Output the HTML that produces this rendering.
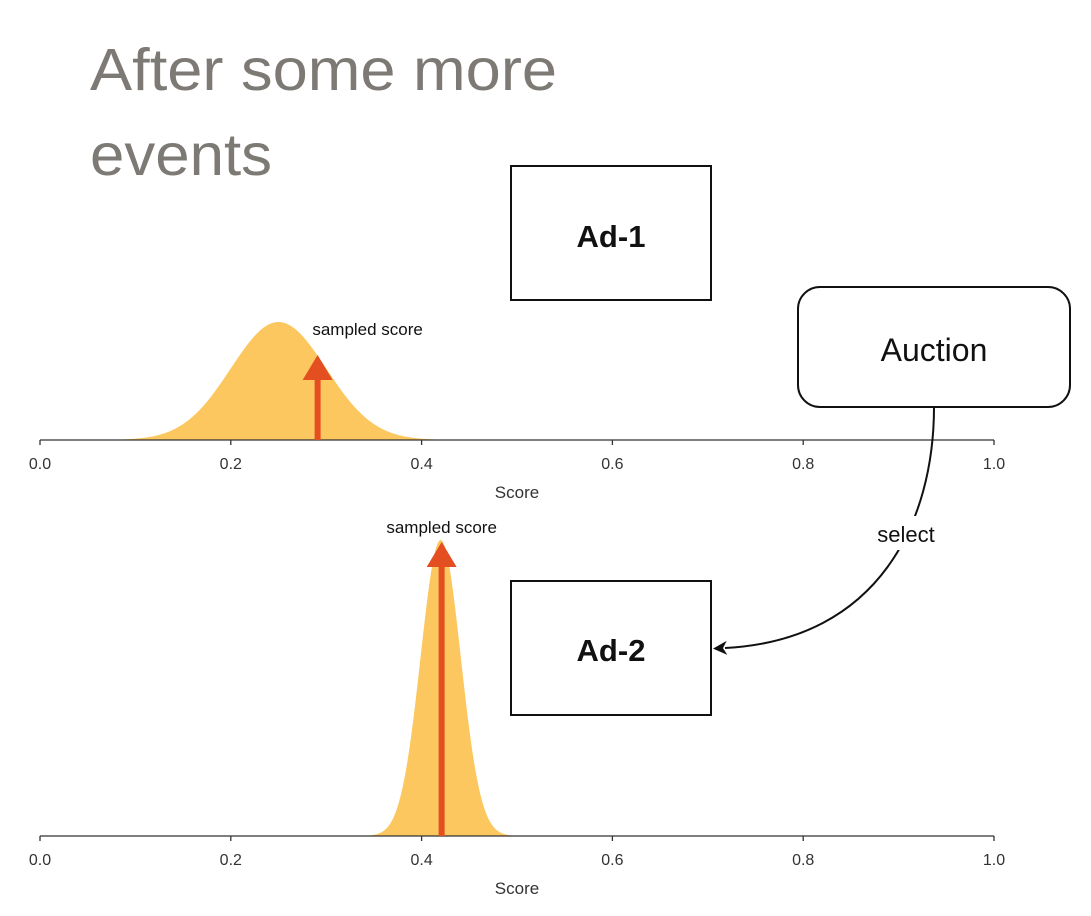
<!DOCTYPE html>
<html><head><meta charset="utf-8">
<style>
html,body{margin:0;padding:0;background:#fff;}
svg{display:block;font-family:"Liberation Sans","DejaVu Sans",sans-serif;}
</style></head>
<body>
<svg id="chart" width="1091" height="916" viewBox="0 0 1091 916" xmlns="http://www.w3.org/2000/svg">
  <defs>
    <marker id="selArrow" markerWidth="18" markerHeight="18" refX="4" refY="9" orient="auto" markerUnits="userSpaceOnUse">
      <path d="M16,9 L2,2 L6,9 L2,16 Z" fill="#111"/>
    </marker>
  </defs>
  <text x="90" y="90" font-size="59" fill="#7d7a75" textLength="467" lengthAdjust="spacingAndGlyphs">After some more</text>
  <text x="90" y="175" font-size="59" fill="#7d7a75" textLength="182" lengthAdjust="spacingAndGlyphs">events</text>

  <g>
    <rect x="511" y="166" width="200" height="134" fill="#fff" stroke="#111" stroke-width="2"/>
    <text x="611" y="247" font-size="31" font-weight="bold" text-anchor="middle" fill="#111">Ad-1</text>
  </g>
  <g>
    <rect x="511" y="581" width="200" height="134" fill="#fff" stroke="#111" stroke-width="2"/>
    <text x="611" y="661" font-size="31" font-weight="bold" text-anchor="middle" fill="#111">Ad-2</text>
  </g>
  <g>
    <rect x="798" y="287" width="272" height="120" rx="22" fill="#fff" stroke="#111" stroke-width="2"/>
    <text x="934" y="361" font-size="32" text-anchor="middle" fill="#111">Auction</text>
  </g>

  <g id="plots"></g>

  <path d="M934,407 C934,520 880,640 725,648" fill="none" stroke="#111" stroke-width="2" marker-end="url(#selArrow)"/>
  <rect x="866" y="516" width="80" height="34" fill="#fff"/>
  <text x="906" y="542" font-size="22" text-anchor="middle" fill="#111">select</text>
</svg>
<script>
// Data
const tickValues = [0.0, 0.2, 0.4, 0.6, 0.8, 1.0];
const tickLabels = ["0.0", "0.2", "0.4", "0.6", "0.8", "1.0"];
const distMeans = [0.25, 0.42];
const distStds = [0.050, 0.021];
const sampledScores = [0.291, 0.421];

const NS = "http://www.w3.org/2000/svg";
const g = document.getElementById("plots");
const X0 = 40, X1 = 994;
const xScale = v => X0 + v * (X1 - X0);
const panels = [{axisY: 440, peakY: 322, tipY: 355}, {axisY: 836, peakY: 540, tipY: 542}];

function mk(tag, attrs){ const e = document.createElementNS(NS, tag); for (const k in attrs) e.setAttribute(k, attrs[k]); return e; }

panels.forEach((p, i) => {
  const mu = distMeans[i], sd = distStds[i];
  const h = p.axisY - p.peakY;
  const yScale = d => p.axisY - d * h;
  let d = `M${xScale(0)},${p.axisY}`;
  for (let k = 0; k <= 600; k++) {
    const v = k / 600;
    const dens = Math.exp(-0.5 * Math.pow((v - mu) / sd, 2));
    d += ` L${xScale(v).toFixed(2)},${yScale(dens).toFixed(2)}`;
  }
  d += ` L${xScale(1)},${p.axisY} Z`;
  const area = mk("path", {d: d, fill: "#fcc75e"});
  
  
  g.appendChild(area);

  const axis = mk("line", {x1: xScale(0), x2: xScale(1), y1: p.axisY, y2: p.axisY, stroke: "#333", "stroke-width": 1.3});
  
  
  g.appendChild(axis);

  tickValues.forEach((t, j) => {
    const tk = mk("line", {x1: xScale(t), x2: xScale(t), y1: p.axisY, y2: p.axisY + 5, stroke: "#333", "stroke-width": 1.3});
    
    
    g.appendChild(tk);
    const lb = mk("text", {x: xScale(t), y: p.axisY + 29, "font-size": 16, "text-anchor": "middle", fill: "#333"});
    lb.textContent = tickLabels[j];
    
    
    g.appendChild(lb);
  });
  const at = mk("text", {x: xScale(0.5), y: p.axisY + 58, "font-size": 17, "text-anchor": "middle", fill: "#333"});
  at.textContent = "Score";
  
  
  g.appendChild(at);

  const sx = xScale(sampledScores[i]);
  const shaft = mk("line", {x1: sx, x2: sx, y1: p.axisY, y2: p.tipY + 20, stroke: "#e44f22", "stroke-width": 6});
  
  
  g.appendChild(shaft);
  const head = mk("path", {d: `M${sx},${p.tipY} L${sx - 15},${p.tipY + 25} L${sx + 15},${p.tipY + 25} Z`, fill: "#e44f22"});
  
  
  g.appendChild(head);

  const lt = mk("text", {x: i === 0 ? sx + 50 : sx, y: i === 0 ? 335 : 533, "font-size": 17, "text-anchor": "middle", fill: "#111"});
  lt.textContent = "sampled score";
  
  
  g.appendChild(lt);
});
</script>
</body></html>
